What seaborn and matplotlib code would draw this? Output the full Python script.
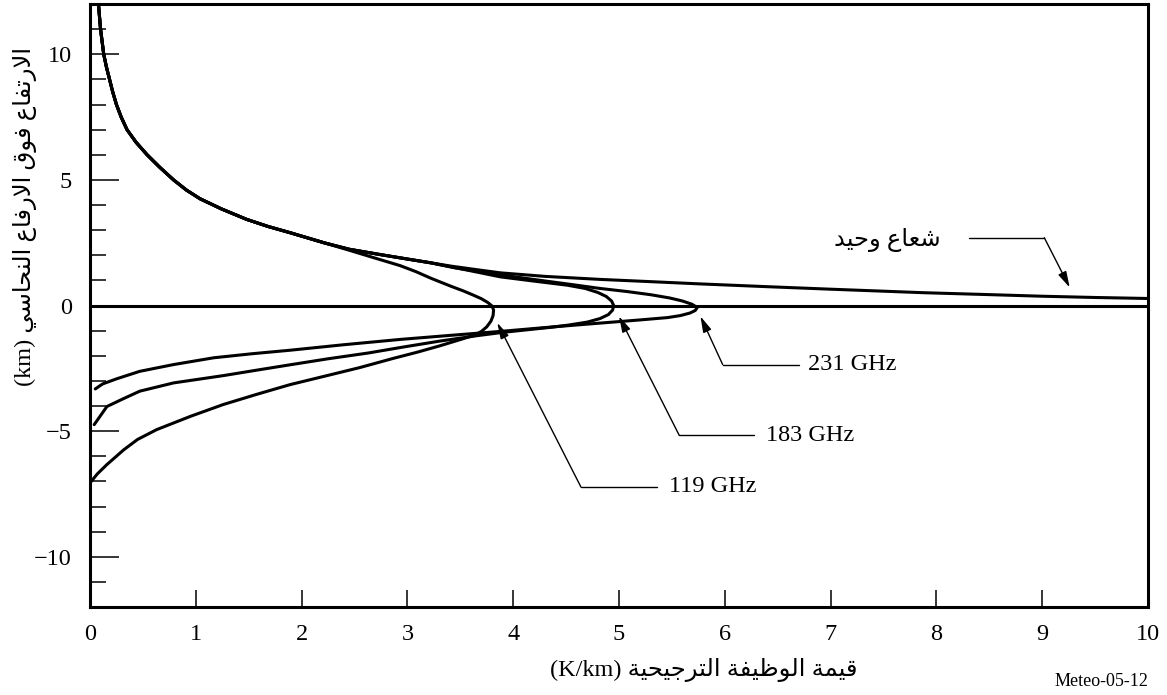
import matplotlib
matplotlib.use("Agg")
import matplotlib.pyplot as plt
import pandas as pd
import seaborn as sns
from matplotlib.ticker import MultipleLocator

# ---------------------------------------------------------------------------
# Weighting-function profiles: value (K/km) against height above cloud (km).
# Above roughly 2.5 km all four profiles coincide, so that part is shared.
# ---------------------------------------------------------------------------
upper_height = [12.0, 11.5, 11.0, 10.5, 10.0, 9.5, 9.0, 8.5, 8.0, 7.5, 7.0, 6.5, 6.0,
                5.5, 5.0, 4.6, 4.25, 3.85, 3.43, 3.15, 2.90, 2.70, 2.50]
upper_value = [0.08, 0.09, 0.10, 0.115, 0.13, 0.155, 0.185, 0.215, 0.25, 0.295, 0.35, 0.435, 0.54,
               0.66, 0.79, 0.91, 1.04, 1.24, 1.48, 1.68, 1.89, 2.05, 2.21]

# common stretch of the single-ray, 183 GHz and 231 GHz profiles
joint_height = [2.24, 2.03, 1.85, 1.70]
joint_value = [2.45, 2.74, 3.00, 3.22]

ray_height = [1.57, 1.43, 1.30, 1.16, 1.04, 0.95, 0.86, 0.75, 0.65, 0.51, 0.44, 0.37, 0.32, 0.28]
ray_value = [3.41, 3.65, 3.88, 4.30, 4.82, 5.30, 5.77, 6.40, 7.00, 7.88, 8.45, 9.00, 9.50, 10.0]

ghz119_height = [2.20, 1.83, 1.59, 1.35, 1.09, 0.77, 0.58, 0.42, 0.27, 0.12, -0.02, -0.18,
                 -0.40, -0.62, -0.85, -1.03, -1.17, -1.33, -1.60, -1.85, -2.10, -2.47,
                 -2.79, -3.15, -3.53, -3.94, -4.41, -4.94, -5.33, -5.74, -6.33, -6.70, -7.06]
ghz119_value = [2.45, 2.74, 2.93, 3.08, 3.22, 3.41, 3.53, 3.62, 3.70, 3.76, 3.80, 3.815,
                3.81, 3.79, 3.75, 3.70, 3.64, 3.52, 3.31, 3.10, 2.87, 2.55,
                2.24, 1.89, 1.58, 1.26, 0.95, 0.63, 0.45, 0.32, 0.16, 0.07, 0.00]

ghz183_height = [1.55, 1.38, 1.14, 0.97, 0.81, 0.68, 0.52, 0.36, 0.18, 0.00, -0.18, -0.36,
                 -0.52, -0.66, -0.78, -0.87, -0.98, -1.08, -1.20, -1.42, -1.66, -1.89,
                 -2.12, -2.36, -2.57, -2.79, -3.08, -3.41, -3.70, -4.02, -4.41, -4.74]
ghz183_value = [3.40, 3.60, 3.88, 4.20, 4.51, 4.68, 4.80, 4.88, 4.93, 4.95, 4.94, 4.90,
                4.82, 4.70, 4.52, 4.35, 4.10, 3.88, 3.66, 3.30, 2.95, 2.63,
                2.25, 1.89, 1.58, 1.26, 0.79, 0.47, 0.32, 0.16, 0.095, 0.04]

ghz231_height = [1.50, 1.37, 1.22, 1.04, 0.86, 0.68, 0.56, 0.43, 0.30, 0.18, 0.05, -0.08,
                 -0.20, -0.30, -0.40, -0.48, -0.58, -0.70, -0.86, -1.03, -1.19, -1.35,
                 -1.56, -1.78, -1.92, -2.08, -2.35, -2.62, -2.92, -3.12, -3.32]
ghz231_value = [3.45, 3.65, 3.88, 4.19, 4.51, 4.82, 5.07, 5.30, 5.48, 5.60, 5.69, 5.74,
                5.72, 5.67, 5.58, 5.46, 5.18, 4.82, 4.35, 3.88, 3.40, 2.93,
                2.40, 1.89, 1.53, 1.17, 0.79, 0.47, 0.25, 0.12, 0.05]

x_ticks = list(range(0, 11))
y_major_ticks = [-10, -5, 0, 5, 10]

x_label = "قيمة الوظيفة الترجيحية (K/km)"
y_label = "الارتفاع فوق الارفاع النحاسي (km)"
ray_label = "شعاع وحيد"
freq_labels = ["231 GHz", "183 GHz", "119 GHz"]
figure_code = "Meteo-05-12"

# ---------------------------------------------------------------------------
# Minimal Arabic shaping (contextual forms + lam-alef) and right-to-left
# ordering, since matplotlib lays text out glyph by glyph.
# (isolated, final, initial, medial)
# ---------------------------------------------------------------------------
FORMS = {
    "ا": (0xFE8D, 0xFE8E, None, None),
    "ب": (0xFE8F, 0xFE90, 0xFE91, 0xFE92),
    "ة": (0xFE93, 0xFE94, None, None),
    "ت": (0xFE95, 0xFE96, 0xFE97, 0xFE98),
    "ج": (0xFE9D, 0xFE9E, 0xFE9F, 0xFEA0),
    "ح": (0xFEA1, 0xFEA2, 0xFEA3, 0xFEA4),
    "د": (0xFEA9, 0xFEAA, None, None),
    "ر": (0xFEAD, 0xFEAE, None, None),
    "س": (0xFEB1, 0xFEB2, 0xFEB3, 0xFEB4),
    "ش": (0xFEB5, 0xFEB6, 0xFEB7, 0xFEB8),
    "ظ": (0xFEC5, 0xFEC6, 0xFEC7, 0xFEC8),
    "ع": (0xFEC9, 0xFECA, 0xFECB, 0xFECC),
    "ف": (0xFED1, 0xFED2, 0xFED3, 0xFED4),
    "ق": (0xFED5, 0xFED6, 0xFED7, 0xFED8),
    "ل": (0xFEDD, 0xFEDE, 0xFEDF, 0xFEE0),
    "م": (0xFEE1, 0xFEE2, 0xFEE3, 0xFEE4),
    "ن": (0xFEE5, 0xFEE6, 0xFEE7, 0xFEE8),
    "و": (0xFEED, 0xFEEE, None, None),
    "ي": (0xFEF1, 0xFEF2, 0xFEF3, 0xFEF4),
}


def _joins_forward(ch):
    return ch in FORMS and FORMS[ch][2] is not None


def shape_word(word):
    glyphs = []
    i, n = 0, len(word)
    while i < n:
        ch = word[i]
        if ch not in FORMS:
            glyphs.append(ch)
            i += 1
            continue
        prev_joins = i > 0 and _joins_forward(word[i - 1])
        if ch == "ل" and i + 1 < n and word[i + 1] == "ا":
            glyphs.append(chr(0xFEFC if prev_joins else 0xFEFB))
            i += 2
            continue
        next_joins = _joins_forward(ch) and i + 1 < n and word[i + 1] in FORMS
        iso, fin, ini, med = FORMS[ch]
        if prev_joins and next_joins:
            g = med
        elif prev_joins:
            g = fin
        elif next_joins:
            g = ini
        else:
            g = iso
        glyphs.append(chr(g))
        i += 1
    return "".join(reversed(glyphs))


def rtl(text):
    tokens = text.split(" ")
    shaped = [shape_word(t) if any(c in FORMS for c in t) else t for t in tokens]
    return " ".join(reversed(shaped))


# ---------------------------------------------------------------------------
# Long-form table of the four profiles
# ---------------------------------------------------------------------------
def profile(name, heights, values, joint=True):
    h = upper_height + (joint_height if joint else []) + heights
    v = upper_value + (joint_value if joint else []) + values
    return pd.DataFrame({"curve": name, "step": range(len(h)), "height": h, "value": v})


profiles = pd.concat([
    profile("ray", ray_height, ray_value),
    profile("119", ghz119_height, ghz119_value, joint=False),
    profile("183", ghz183_height, ghz183_value),
    profile("231", ghz231_height, ghz231_value),
], ignore_index=True)

sns.set_theme(style="white")
plt.rcParams["font.family"] = ["Liberation Serif", "DejaVu Sans"]

fig = plt.figure(figsize=(11.67, 6.95), dpi=100)
ax = fig.add_axes([0.0771, 0.1266, 0.9066, 0.8676])

sns.lineplot(data=profiles, x="value", y="height", units="curve", estimator=None,
             sort=False, color="black", linewidth=2.2, ax=ax, legend=False)
ax.axhline(0, color="black", linewidth=2.2, zorder=3)

ax.set_xlim(0, 10)
ax.set_ylim(-12, 12)

for side in ax.spines.values():
    side.set_color("black")
    side.set_linewidth(2.2)

ax.set_xticks(x_ticks)
ax.set_xticklabels([str(t) for t in x_ticks])
ax.set_yticks(y_major_ticks)
ax.set_yticklabels([str(t).replace("-", "\u2212") for t in y_major_ticks])
ax.yaxis.set_minor_locator(MultipleLocator(1))
ax.tick_params(axis="x", which="both", bottom=True, direction="in", length=12,
               width=1.1, color="black", labelsize=17.5, pad=12, labelcolor="black")
ax.tick_params(axis="y", which="major", left=True, direction="in", length=21,
               width=1.1, color="black", labelsize=17.5, pad=13, labelcolor="black")
ax.tick_params(axis="y", which="minor", left=True, direction="in", length=11.5,
               width=1.1, color="black")

ax.set_xlabel(rtl(x_label), fontsize=17.5, color="black")
ax.xaxis.set_label_coords(0.58, -0.085)
ax.set_ylabel(rtl(y_label), fontsize=17.5, color="black")
ax.yaxis.set_label_coords(-0.05, 0.647)

# Leader lines with arrowheads pointing to each profile
arrow = dict(arrowstyle="-|>,head_length=0.8,head_width=0.22", color="black",
             lw=1.0, shrinkA=0, shrinkB=0)
leaders = [
    # text, text x, text y, elbow x, end x, tip (x, y)
    (freq_labels[0], 6.79, -2.35, 5.98, 6.70, (5.77, -0.43)),
    (freq_labels[1], 6.39, -5.17, 5.57, 6.28, (5.00, -0.43)),
    (freq_labels[2], 5.47, -7.22, 4.64, 5.36, (3.85, -0.69)),
]
for text, tx, ty, ex, end, tip in leaders:
    ax.plot([ex, end], [ty, ty], color="black", lw=1.0)
    ax.annotate("", xy=tip, xytext=(ex, ty), arrowprops=arrow)
    ax.text(tx, ty, text, fontsize=17.5, ha="left", va="center", color="black")

ax.plot([8.31, 9.02], [2.70, 2.70], color="black", lw=1.0)
ax.annotate("", xy=(9.26, 0.72), xytext=(9.02, 2.70), arrowprops=arrow)
ax.text(8.04, 2.6, rtl(ray_label), fontsize=17.5, ha="right", va="center", color="black")

fig.text(0.984, 0.02, figure_code, fontsize=13, ha="right", va="center", color="black")

fig.savefig("out.png", dpi=100, facecolor="white")
